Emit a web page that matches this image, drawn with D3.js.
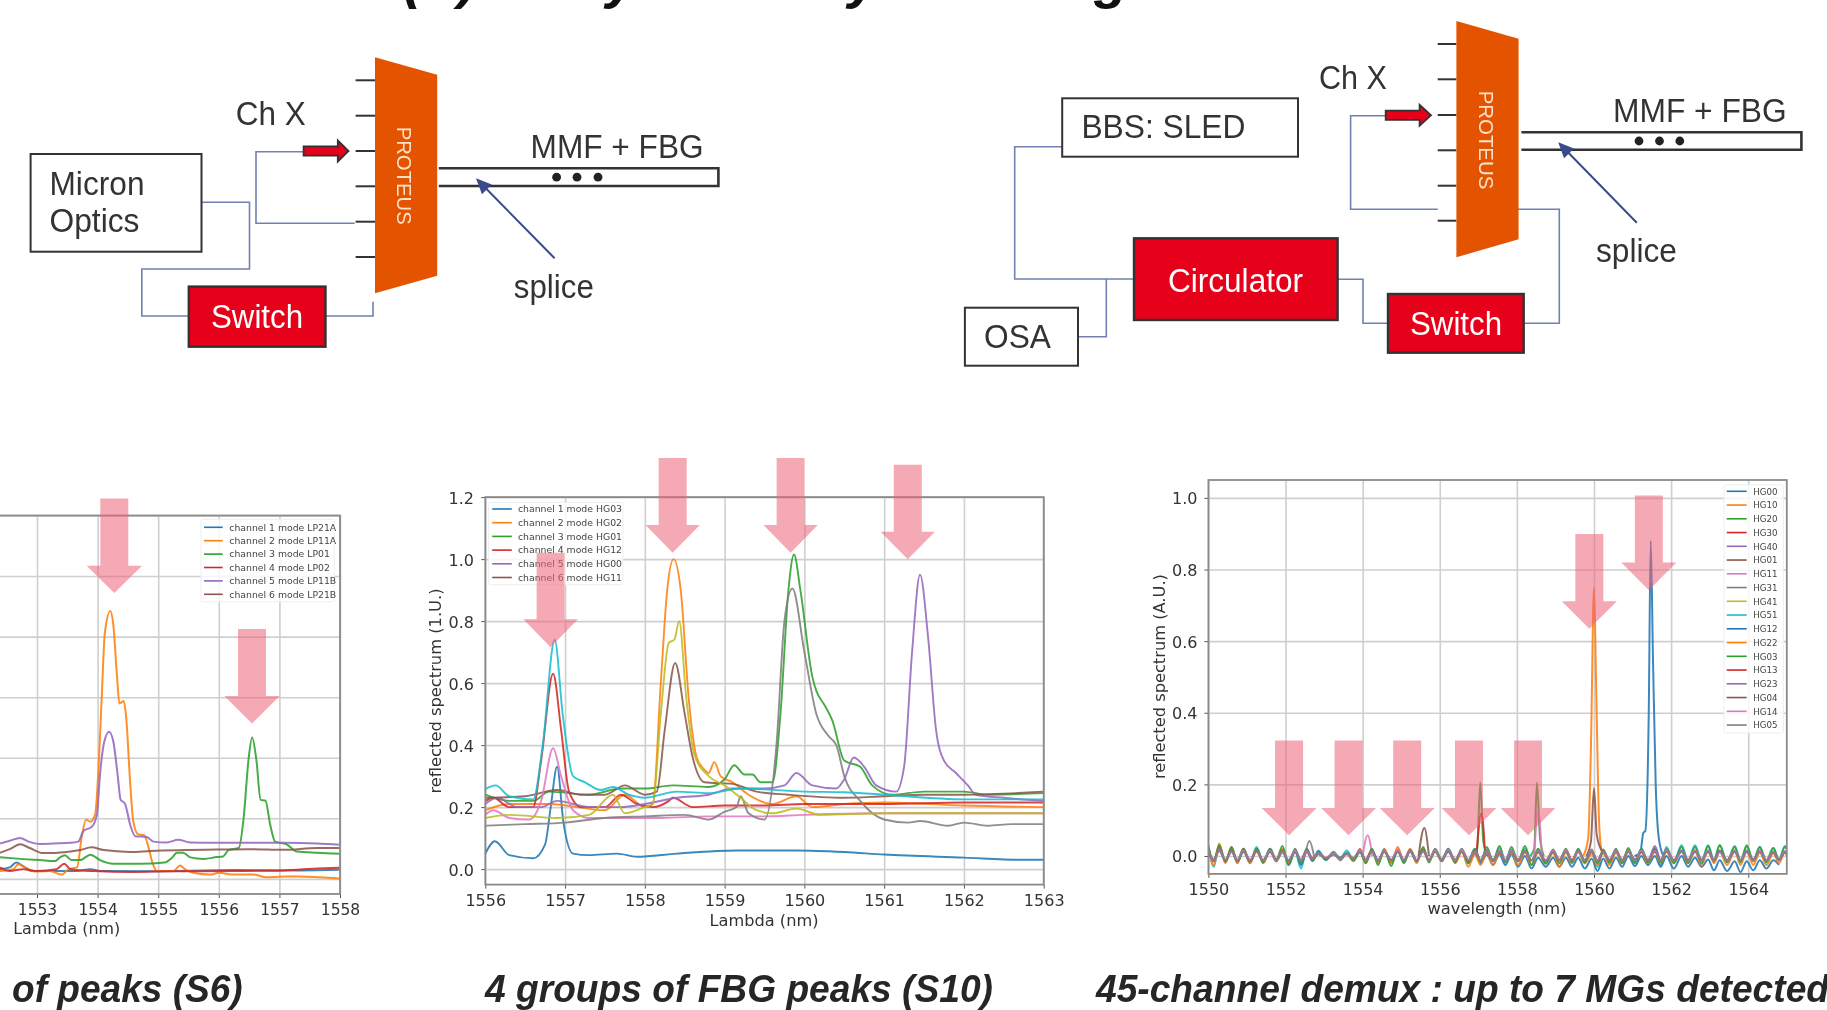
<!DOCTYPE html>
<html><head><meta charset="utf-8">
<script src="https://cdn.jsdelivr.net/npm/d3@7/dist/d3.min.js"></script>
<style>html,body{margin:0;padding:0;background:#fff;overflow:hidden}svg{display:block;filter:blur(.6px)}</style>
</head><body><svg id="c" width="1827" height="1010"></svg>
<script>
// ---------- Chart 1 (S6) ----------
const s6Legend = ["channel 1 mode LP21A","channel 2 mode LP11A","channel 3 mode LP01","channel 4 mode LP02","channel 5 mode LP11B","channel 6 mode LP21B"];
const s6XTicks = [1553,1554,1555,1556,1557,1558];
const s6YTicks = [0,0.2,0.4,0.6,0.8,1.0,1.2];
const lp21aWl = [1552.39,1552.55,1552.66,1552.77,1552.91,1553.21,1553.66,1553.88,1554.04,1554.87,1556.24,1557.34,1558];
const lp21aVal = [.032,.038,.054,.042,.026,.026,.026,.032,.026,.025,.029,.028,.030];
const lp11aWl = [1552.39,1552.61,1552.69,1552.80,1552.99,1553.21,1553.41,1553.52,1553.66,1553.74,1553.81,1553.88,1553.96,1554.01,1554.07,1554.12,1554.21,1554.26,1554.32,1554.36,1554.43,1554.47,1554.54,1554.59,1554.67,1554.77,1554.84,1554.91,1554.99,1555.14,1555.25,1555.36,1555.44,1555.58,1555.86,1556.0,1556.24,1556.57,1556.79,1557.07,1557.34,1557.67,1558];
const lp11aVal = [.026,.032,.048,.038,.024,.026,.014,.032,.038,.141,.195,.189,.213,.345,.609,.813,.885,.837,.669,.579,.587,.537,.309,.189,.147,.144,.104,.050,.026,.026,.026,.044,.032,.020,.014,.020,.014,.014,.005,.008,.008,.005,.001];
const lp01Wl = [1552.39,1552.72,1553.05,1553.30,1553.38,1553.46,1553.57,1553.71,1553.88,1554.04,1554.26,1554.70,1555.11,1555.22,1555.31,1555.41,1555.53,1555.75,1555.97,1556.07,1556.16,1556.33,1556.41,1556.49,1556.55,1556.62,1556.69,1556.77,1556.85,1556.93,1557.12,1557.29,1557.62,1558];
const lp01Val = [.071,.066,.062,.059,.071,.078,.062,.062,.080,.062,.050,.050,.054,.068,.086,.086,.071,.066,.072,.074,.095,.102,.201,.393,.467,.393,.261,.258,.177,.123,.114,.090,.086,.083];
const lp02Wl = [1552.39,1552.55,1552.77,1552.99,1553.32,1553.45,1553.55,1553.93,1554.59,1555.14,1556.24,1557.07,1557.62,1558];
const lp02Val = [.038,.026,.032,.026,.032,.050,.032,.026,.023,.025,.026,.028,.034,.037];
const lp11bWl = [1552.39,1552.55,1552.72,1552.86,1553.05,1553.27,1553.55,1553.68,1553.77,1553.90,1553.99,1554.04,1554.11,1554.19,1554.26,1554.33,1554.38,1554.45,1554.54,1554.62,1554.81,1554.92,1555.14,1555.33,1555.53,1555.97,1556.52,1557.07,1557.62,1558];
const lp11bVal = [.117,.126,.135,.123,.115,.117,.119,.123,.159,.171,.213,.345,.453,.486,.453,.345,.261,.249,.177,.141,.138,.123,.120,.129,.120,.119,.119,.119,.117,.113];
const lp21bWl = [1552.39,1552.55,1552.72,1552.88,1553.10,1553.49,1553.71,1553.90,1554.10,1554.54,1554.87,1556.0,1556.52,1557.07,1557.62,1558];
const lp21bVal = [.086,.098,.114,.102,.085,.089,.095,.104,.095,.089,.092,.097,.098,.096,.102,.102];

// ---------- Chart 2 (S10) ----------
const s10Legend = ["channel 1 mode HG03","channel 2 mode HG02","channel 3 mode HG01","channel 4 mode HG12","channel 5 mode HG00","channel 6 mode HG11"];
const s10XTicks = [1556,1557,1558,1559,1560,1561,1562,1563];
const s10YTicks = [0,0.2,0.4,0.6,0.8,1.0,1.2];
const hg03Wl = [1556,1556.12,1556.3,1556.6,1556.75,1556.82,1556.9,1556.98,1557.1,1557.3,1557.65,1557.9,1558.4,1559.15,1559.9,1560.5,1561,1562,1562.7,1563];
const hg03Val = [.05,.09,.045,.035,.08,.2,.33,.15,.05,.045,.05,.04,.05,.06,.06,.055,.047,.037,.03,.03];
const hg02Wl = [1556,1556.3,1556.8,1557.5,1557.75,1558,1558.1,1558.2,1558.28,1558.36,1558.45,1558.55,1558.65,1558.75,1558.8,1558.87,1558.95,1559.1,1559.3,1559.6,1559.9,1560.1,1560.5,1561,1562,1563];
const hg02Val = [.19,.21,.21,.19,.24,.2,.21,.6,.9,1.0,.9,.55,.36,.32,.31,.345,.3,.28,.24,.21,.235,.2,.21,.215,.205,.2];
const hg01Wl = [1556,1556.3,1556.6,1556.8,1557.3,1557.7,1558,1558.35,1558.8,1559,1559.12,1559.25,1559.35,1559.45,1559.6,1559.7,1559.8,1559.87,1559.95,1560.1,1560.15,1560.25,1560.35,1560.5,1560.7,1560.85,1561.1,1561.5,1562,1562.3,1563];
const hg01Val = [.24,.22,.22,.25,.24,.26,.26,.27,.265,.29,.335,.305,.305,.28,.28,.5,.9,1.015,.9,.62,.575,.53,.48,.35,.33,.27,.24,.25,.25,.24,.245];
const hg12Wl = [1556,1556.1,1556.3,1556.6,1556.7,1556.85,1556.95,1557.05,1557.2,1557.5,1557.7,1557.9,1558.1,1558.3,1558.35,1558.6,1559,1559.5,1560,1561,1562,1563];
const hg12Val = [.22,.23,.2,.2,.35,.63,.45,.25,.2,.2,.24,.21,.2,.22,.23,.2,.205,.205,.21,.21,.215,.215];
const hg00Wl = [1556,1556.15,1556.4,1556.7,1556.9,1557.3,1557.7,1558,1558.4,1558.8,1559.1,1559.5,1559.75,1559.9,1560.1,1560.4,1560.5,1560.62,1560.75,1560.9,1561.15,1561.25,1561.35,1561.45,1561.55,1561.65,1561.75,1561.9,1562.05,1562.15,1562.5,1563];
const hg00Val = [.21,.23,.2,.2,.22,.2,.2,.21,.23,.24,.26,.26,.27,.31,.27,.26,.29,.36,.33,.27,.25,.33,.7,.95,.75,.45,.35,.31,.27,.24,.23,.22];
const hg11Wl = [1556,1556.5,1556.9,1557.2,1557.5,1557.75,1558,1558.15,1558.25,1558.38,1558.5,1558.6,1558.75,1559.1,1559.4,1559.8,1560.5,1561,1561.5,1562,1563];
const hg11Val = [.23,.235,.255,.24,.24,.27,.24,.25,.45,.665,.5,.36,.28,.275,.25,.24,.23,.235,.24,.24,.25];
const s10PinkWl = [1556,1556.1,1556.3,1556.55,1556.7,1556.85,1556.95,1557.1,1557.3,1557.8,1558.2,1558.8,1559.5,1560,1561,1563];
const s10PinkVal = [.175,.19,.165,.16,.22,.39,.3,.19,.165,.165,.165,.17,.17,.175,.18,.18];
const s10GrayWl = [1556,1556.5,1557,1557.5,1558,1558.5,1558.8,1559,1559.15,1559.2,1559.3,1559.5,1559.65,1559.75,1559.85,1560,1560.15,1560.3,1560.4,1560.5,1560.7,1561,1561.3,1561.45,1561.8,1562,1562.3,1562.6,1563];
const s10GrayVal = [.14,.145,.15,.165,.17,.175,.16,.185,.2,.235,.18,.16,.4,.8,.905,.7,.5,.43,.4,.3,.22,.16,.15,.155,.14,.15,.14,.145,.145];
const s10OliveWl = [1556,1556.3,1556.9,1557.3,1557.6,1557.75,1558,1558.1,1558.2,1558.3,1558.37,1558.43,1558.52,1558.62,1558.8,1559,1559.2,1559.4,1559.6,1559.9,1560.2,1561,1562,1563];
const s10OliveVal = [.165,.175,.165,.175,.24,.18,.2,.21,.5,.73,.74,.8,.55,.37,.3,.27,.23,.19,.18,.195,.175,.18,.18,.18];
const s10CyanWl = [1556,1556.13,1556.3,1556.6,1556.72,1556.87,1556.97,1557.1,1557.25,1557.45,1557.6,1557.8,1558,1558.4,1558.8,1559.2,1560,1560.5,1561,1562,1563];
const s10CyanVal = [.258,.27,.235,.225,.4,.74,.5,.3,.28,.255,.265,.24,.23,.25,.245,.26,.25,.248,.24,.225,.225];

// ---------- Chart 3 (45-channel demux) ----------
const demuxLegend = ["HG00","HG10","HG20","HG30","HG40","HG01","HG11","HG31","HG41","HG51","HG12","HG22","HG03","HG13","HG23","HG04","HG14","HG05"];
const demuxXTicks = [1550,1552,1554,1556,1558,1560,1562,1564];
const demuxYTicks = [0,0.2,0.4,0.6,0.8,1.0];
const rippleWl = [1550.00,1550.14,1550.28,1550.44,1550.60,1550.75,1550.91,1551.08,1551.25,1551.42,1551.60,1551.76,1551.92,1552.08,1552.25,1552.40,1552.55,1552.70,1552.85,1553.05,1553.24,1553.42,1553.59,1553.76,1553.93,1554.08,1554.24,1554.40,1554.56,1554.74,1554.91,1555.07,1555.23,1555.40,1555.57,1555.72,1555.88,1556.05,1556.22,1556.40,1556.57,1556.74,1556.91,1557.06,1557.22,1557.38,1557.55,1557.70,1557.86,1558.03,1558.21,1558.38,1558.55,1558.75,1558.94,1559.10,1559.27,1559.43,1559.59,1559.76,1559.94,1560.09,1560.24,1560.40,1560.57,1560.73,1560.89,1561.06,1561.23,1561.40,1561.58,1561.73,1561.88,1562.07,1562.27,1562.44,1562.62,1562.79,1562.96,1563.11,1563.26,1563.45,1563.65,1563.80,1563.96,1564.13,1564.30,1564.47,1564.65,1564.80,1564.95,1565.00];
const rippleHG22 = [.02,-.025,.035,-.02,.025,-.02,.02,-.02,.02,-.02,.015,-.015,.02,-.02,.015,-.015,.01,-.005,.005,-.005,.008,-.01,.006,-.015,.02,-.02,.015,-.02,.02,-.02,.025,-.015,.02,-.02,.02,-.015,.015,-.015,.015,-.02,.012,-.03,.005,-.025,.01,-.025,.01,-.015,.012,-.025,.01,-.025,.01,-.02,.008,-.03,.01,-.02,.012,-.02,.005,-.025,.01,-.025,.01,-.02,.012,-.015,.01,-.02,.012,-.02,.012,-.02,.015,-.02,.012,-.025,.015,-.02,.012,-.025,.012,-.025,.012,-.025,.01,-.025,.008,-.02,.01,0];
const rippleHG03 = [.025,-.015,.03,-.015,.025,-.015,.02,-.015,.02,-.018,.02,-.012,.028,-.025,.02,-.02,.02,-.012,.008,-.01,.006,-.008,.008,-.012,.012,-.02,.02,-.025,.018,-.028,.018,-.02,.015,-.015,.025,-.018,.02,-.015,.02,-.018,.02,-.02,.02,-.015,.025,-.015,.028,-.018,.025,-.015,.028,-.025,.02,-.022,.018,-.02,.02,-.018,.02,-.018,.018,-.02,.018,-.018,.02,-.02,.022,-.02,.02,-.018,.022,-.018,.02,-.02,.025,-.02,.025,-.02,.028,-.015,.03,-.018,.025,-.018,.03,-.015,.025,-.018,.022,-.012,.025,.02];
const rippleHG51 = [.03,-.03,.03,-.018,.02,-.02,.015,-.018,.025,-.015,.018,-.015,.015,-.025,.012,-.035,.018,-.015,.015,-.012,.012,-.005,.015,-.01,.012,-.012,.018,-.012,.015,-.012,.015,-.018,.018,-.015,.018,-.012,.018,-.012,.02,-.015,.018,-.012,.02,-.015,.018,-.012,.022,-.012,.018,-.012,.02,-.012,.018,-.018,.015,-.012,.018,-.015,.018,-.02,.012,-.03,.012,-.02,.015,-.015,.018,-.018,.02,-.018,.02,-.025,.025,-.015,.03,-.012,.03,-.012,.03,-.012,.03,-.015,.028,-.012,.025,-.012,.025,-.012,.022,-.01,.028,.02];
const rippleHG12 = [.02,-.015,.025,-.015,.02,-.015,.02,-.02,.02,-.018,.02,-.015,.018,-.02,.015,-.025,.012,-.012,.012,-.01,.01,-.012,.008,-.012,.012,-.015,.015,-.015,.015,-.018,.012,-.015,.018,-.012,.015,-.012,.018,-.012,.012,-.015,.012,-.02,.008,-.02,.005,-.025,.005,-.025,.005,-.03,0,-.035,-.005,-.03,-.005,-.03,-.005,-.03,-.005,-.035,-.008,-.042,-.008,-.035,-.005,-.03,0,-.028,0,-.025,0,-.03,0,-.035,0,-.03,-.005,-.03,-.01,-.04,-.012,-.042,-.015,-.045,-.015,-.04,-.012,-.035,-.012,-.025];
const rippleHG23 = [.015,-.012,.02,-.012,.015,-.012,.015,-.012,.015,-.012,.015,-.01,.012,-.012,.015,-.012,.018,-.008,.006,-.006,.006,-.006,.008,-.008,.018,-.012,.012,-.012,.015,-.012,.015,-.012,.015,-.012,.015,-.012,.015,-.012,.018,-.012,.018,-.012,.015,-.012,.015,-.012,.015,-.012,.015,-.012,.012,-.012,.012,-.012,.015,-.012,.015,-.012,.015,-.012,.012,-.012,.012,-.012,.015,-.012,.012,-.012,.015,-.012,.028,-.012,.018,-.012,.015,-.012,.015,-.012,.015,-.012,.015,-.012,.015,-.012,.015,-.012,.015,-.012,.012,-.012,.012,.01];
const rippleHG04 = [.012,-.01,.018,-.012,.014,-.012,.012,-.014,.014,-.012,.012,-.01,.014,-.014,.012,-.012,.014,-.01,.006,-.008,.005,-.005,.007,-.006,.012,-.01,.014,-.012,.012,-.012,.014,-.012,.012,-.014,.016,-.012,.014,-.01,.014,-.012,.014,-.014,.014,-.012,.016,-.012,.012,-.014,.012,-.012,.014,-.012,.012,-.014,.012,-.012,.014,-.012,.012,-.012,.014,-.014,.014,-.012,.012,-.012,.014,-.01,.012,-.012,.016,-.012,.014,-.012,.012,-.012,.014,-.01,.012,-.012,.014,-.012,.014,-.012,.012,-.01,.014,-.012,.01,-.01,.012,.005];
const rippleHG14 = [.01,-.012,.016,-.01,.012,-.01,.014,-.01,.012,-.012,.014,-.012,.012,-.012,.014,-.012,.012,-.008,.008,-.006,.007,-.007,.005,-.006,.014,-.012,.012,-.012,.014,-.01,.016,-.012,.014,-.012,.012,-.012,.016,-.012,.016,-.012,.016,-.012,.012,-.012,.014,-.012,.014,-.012,.014,-.01,.012,-.012,.014,-.012,.014,-.01,.016,-.012,.012,-.012,.014,-.012,.012,-.01,.014,-.012,.014,-.012,.014,-.01,.014,-.012,.016,-.012,.012,-.01,.014,-.012,.014,-.012,.012,-.012,.014,-.012,.012,-.012,.014,-.012,.012,-.012,.014,.01];
const rippleHG05 = [.008,-.012,.014,-.012,.012,-.014,.012,-.014,.012,-.012,.012,-.012,.01,-.012,.012,-.012,.016,-.006,.006,-.006,.004,-.006,.006,-.006,.012,-.012,.014,-.014,.012,-.012,.012,-.012,.014,-.012,.014,-.012,.012,-.012,.014,-.01,.012,-.012,.01,-.012,.012,-.012,.012,-.014,.012,-.012,.012,-.012,.012,-.014,.012,-.012,.012,-.012,.014,-.012,.012,-.014,.012,-.012,.012,-.012,.012,-.012,.012,-.012,.012,-.012,.014,-.012,.012,-.012,.012,-.012,.012,-.012,.012,-.012,.012,-.012,.012,-.012,.012,-.014,.012,-.012,.012,.005];
const spikeHG00Wl = [1561.05,1561.2,1561.28,1561.33,1561.42,1561.47,1561.53,1561.6,1561.68,1561.8];
const spikeHG00Val = [0,.01,.065,.07,.4,.88,.55,.2,.05,0];
const spikeHG10Wl = [1559.72,1559.85,1559.92,1560,1560.06,1560.13,1560.2,1560.3];
const spikeHG10Val = [0,.05,.3,.75,.45,.1,.015,0];
const spikeHG01Wl = [1559.8,1559.92,1560,1560.07,1560.2];
const spikeHG01Val = [0,.04,.19,.06,.015];
const spikeHG20aWl = [1556.85,1556.97,1557.05,1557.13,1557.25];
const spikeHG20aVal = [0,.02,.205,.04,0];
const spikeHG20bWl = [1558.35,1558.45,1558.52,1558.6,1558.7];
const spikeHG20bVal = [0,.02,.205,.05,0];
const spikeHG30aWl = [1556.95,1557.08,1557.18];
const spikeHG30aVal = [0,.12,0];
const spikeHG11aWl = [1558.45,1558.55,1558.65];
const spikeHG11aVal = [0,.125,0];
const spikeHG04aWl = [1555.45,1555.6,1555.72];
const spikeHG04aVal = [0,.078,0];
const spikeHG14aWl = [1554.0,1554.13,1554.25];
const spikeHG14aVal = [0,.058,0];
const spikeHG05aWl = [1552.5,1552.62,1552.74];
const spikeHG05aVal = [0,.042,0];

const tab = ["#1f77b4","#ff7f0e","#2ca02c","#d62728","#9467bd","#8c564b","#e377c2","#7f7f7f","#bcbd22","#17becf"];
const svg = d3.select("#c");
const TXT = "#333", SANS = "Liberation Sans, Arial, sans-serif", DJ = "DejaVu Sans, sans-serif";

function text(g,str,x,y,o={}){
  const t=g.append("text").attr("x",x).attr("y",y).text(str)
    .attr("font-family",o.family||SANS).attr("font-size",o.size||34).attr("fill",o.fill||TXT)
    .attr("text-anchor",o.anchor||"start");
  if(o.weight)t.attr("font-weight",o.weight);
  if(o.style)t.attr("font-style",o.style);
  if(o.len)t.attr("textLength",o.len).attr("lengthAdjust","spacingAndGlyphs");
  if(o.rot!==undefined)t.attr("transform",`rotate(${o.rot} ${x} ${y})`);
  return t;
}

function drawChart(c){
  const g=svg.append("g");
  const x=d3.scaleLinear().domain(c.xDomain).range([c.l,c.r]);
  const y=d3.scaleLinear().domain(c.yDomain).range([c.b,c.t]);
  const gx=g.append("g").attr("transform",`translate(0,${c.b})`)
    .call(d3.axisBottom(x).tickValues(c.xTicks).tickFormat(d3.format("d")).tickSize(c.t-c.b).tickPadding(0));
  const gy=g.append("g").attr("transform",`translate(${c.l},0)`)
    .call(d3.axisLeft(y).tickValues(c.yTicks).tickFormat(c.hideYLabels?"":d3.format(".1f")).tickSize(-(c.r-c.l)).tickPadding(0));
  [gx,gy].forEach(a=>{a.select(".domain").remove();
    a.selectAll(".tick line").attr("stroke","#cfcfcf").attr("stroke-width",1.6);
    a.selectAll(".tick text").attr("font-family",DJ).attr("font-size",c.tick).attr("fill",TXT);});
  gx.selectAll(".tick text").attr("y",c.xTickY-c.b).attr("dy",0);
  gy.selectAll(".tick text").attr("x",c.yTickX-c.l).attr("dy","0.37em");
  if(c.hideYLabels)gy.selectAll(".tick text").remove();
  g.append("g").attr("transform",`translate(0,${c.b})`).call(d3.axisBottom(x).tickValues(c.xTicks).tickFormat("").tickSize(4))
    .call(a=>{a.select(".domain").remove();a.selectAll("line").attr("stroke","#555");a.selectAll("text").remove();});
  g.append("g").attr("transform",`translate(${c.l},0)`).call(d3.axisLeft(y).tickValues(c.yTicks).tickFormat("").tickSize(4))
    .call(a=>{a.select(".domain").remove();a.selectAll("line").attr("stroke","#555");a.selectAll("text").remove();});
  const id="clip"+c.id;
  svg.append("clipPath").attr("id",id).append("rect").attr("x",c.l).attr("y",c.t).attr("width",c.r-c.l).attr("height",c.b-c.t);
  const line=d3.line().x(d=>x(d[0])).y(d=>y(d[1])).curve(d3.curveMonotoneX);
  const lg=g.append("g").attr("clip-path",`url(#${id})`).attr("fill","none").attr("stroke-width",c.lw).attr("stroke-linejoin","round").attr("stroke-opacity",.88);
  c.series.forEach(s=>lg.append("path").attr("d",line(d3.zip(s.wl,s.val))).attr("stroke",s.color));
  g.append("rect").attr("x",c.l).attr("y",c.t).attr("width",c.r-c.l).attr("height",c.b-c.t).attr("fill","none").attr("stroke","#8a8a8a").attr("stroke-width",1.8);
  text(g,c.xLabel,c.xLabelX,c.xLabelY,{family:DJ,size:c.tick,anchor:"middle",len:c.xLabelLen});
  if(c.yLabel)text(g,c.yLabel,c.yLabelX,c.yLabelY,{family:DJ,size:c.tick,anchor:"middle",rot:-90,len:c.yLabelLen});
  const L=c.legend;
  g.append("rect").attr("x",L.x0).attr("y",L.y0).attr("width",L.x1-L.x0).attr("height",L.y1-L.y0).attr("rx",2)
    .attr("fill","#fff").attr("fill-opacity",.8).attr("stroke","#eee").attr("stroke-width",1);
  L.labels.forEach((t,i)=>{
    const yy=L.first+i*L.step;
    g.append("line").attr("x1",L.lx0).attr("x2",L.lx1).attr("y1",yy).attr("y2",yy).attr("stroke",tab[i%10]).attr("stroke-width",1.6);
    text(g,t,L.tx,yy+3.2,{family:DJ,size:L.size,fill:"#444"});
  });
  return g;
}

function arrow(g,tip,tipY,headY,topY,shaftHalf,headHalf){
  const p=d3.path();
  p.moveTo(tip-shaftHalf,topY);p.lineTo(tip+shaftHalf,topY);p.lineTo(tip+shaftHalf,headY);p.lineTo(tip+headHalf,headY);
  p.lineTo(tip,tipY);p.lineTo(tip-headHalf,headY);p.lineTo(tip-shaftHalf,headY);p.closePath();
  g.append("path").attr("d",p.toString()).attr("fill","rgb(237,99,120)").attr("fill-opacity",.55);
}

// ----- Chart 1 -----
const g1=drawChart({id:1,l:-205.4,r:340,t:515.5,b:894,xDomain:[1549,1558],yDomain:[-.05,1.2],xTicks:s6XTicks,yTicks:s6YTicks,hideYLabels:true,tick:15.5,lw:2,
  xTickY:914.5,yTickX:-215,xLabel:"Lambda (nm)",xLabelX:66.7,xLabelY:934,xLabelLen:107,
  series:[{wl:lp21aWl,val:lp21aVal,color:tab[0]},{wl:lp11aWl,val:lp11aVal,color:tab[1]},{wl:lp01Wl,val:lp01Val,color:tab[2]},{wl:lp02Wl,val:lp02Val,color:tab[3]},{wl:lp11bWl,val:lp11bVal,color:tab[4]},{wl:lp21bWl,val:lp21bVal,color:tab[5]}],
  legend:{labels:s6Legend,x0:201,x1:334.3,y0:519.3,y1:601.8,first:527.3,step:13.4,lx0:204,lx1:222.7,tx:229.3,size:9.3}});
arrow(g1,114.3,593,565.8,498.5,14,27.7);
arrow(g1,252,723.6,696,629,14,27.7);

// ----- Chart 2 -----
const g2=drawChart({id:2,l:485.3,r:1043.7,t:497.1,b:884.6,xDomain:[1556,1563],yDomain:[-.05,1.2],xTicks:s10XTicks,yTicks:s10YTicks,tick:16,lw:1.9,
  xTickY:906.5,yTickX:474,xLabel:"Lambda (nm)",xLabelX:764,xLabelY:926,xLabelLen:109,yLabel:"reflected spectrum (1.U.)",yLabelX:441,yLabelY:691,yLabelLen:205,
  series:[{wl:hg03Wl,val:hg03Val,color:tab[0]},{wl:hg02Wl,val:hg02Val,color:tab[1]},{wl:hg01Wl,val:hg01Val,color:tab[2]},{wl:hg12Wl,val:hg12Val,color:tab[3]},{wl:hg00Wl,val:hg00Val,color:tab[4]},{wl:hg11Wl,val:hg11Val,color:tab[5]},{wl:s10PinkWl,val:s10PinkVal,color:tab[6]},{wl:s10GrayWl,val:s10GrayVal,color:tab[7]},{wl:s10OliveWl,val:s10OliveVal,color:tab[8]},{wl:s10CyanWl,val:s10CyanVal,color:tab[9]}],
  legend:{labels:s10Legend,x0:488.6,x1:622.9,y0:502.5,y1:584.7,first:509,step:13.7,lx0:492.2,lx1:511.8,tx:518,size:9.3}});
const toX2=z=>z/2.45+420, toY2=z=>z/2.75+440;
arrow(g2,toX2(320),toY2(570),toY2(493),toY2(310),14,27.2);
arrow(g2,toX2(619),toY2(310),toY2(234),458,14,27.2);
arrow(g2,toX2(908),toY2(310),toY2(234),458,14,27.2);
arrow(g2,toX2(1195),toY2(328),toY2(252),toY2(68),14,27.2);

// ----- Chart 3 -----
const ripples=[[rippleHG51,tab[9]],[rippleHG12,tab[0]],[rippleHG22,tab[1]],[rippleHG03,tab[2]],[rippleHG23,tab[4]],[rippleHG04,tab[5]],[rippleHG14,tab[6]],[rippleHG05,tab[7]]];
const spikes=[[spikeHG00Wl,spikeHG00Val,tab[0]],[spikeHG10Wl,spikeHG10Val,tab[1]],[spikeHG20aWl,spikeHG20aVal,tab[2]],[spikeHG20bWl,spikeHG20bVal,tab[2]],[spikeHG30aWl,spikeHG30aVal,tab[3]],[spikeHG01Wl,spikeHG01Val,tab[5]],[spikeHG04aWl,spikeHG04aVal,tab[5]],[spikeHG11aWl,spikeHG11aVal,tab[6]],[spikeHG14aWl,spikeHG14aVal,tab[6]],[spikeHG05aWl,spikeHG05aVal,tab[7]]];
const g3=drawChart({id:3,l:1208.4,r:1786.8,t:480,b:873.9,xDomain:[1550,1565],yDomain:[-.05,1.05],xTicks:demuxXTicks,yTicks:demuxYTicks,tick:16,lw:2,
  xTickY:895,yTickX:1197.5,xLabel:"wavelength (nm)",xLabelX:1497,xLabelY:914,xLabelLen:139,yLabel:"reflected spectrum (A.U.)",yLabelX:1165,yLabelY:676.6,yLabelLen:205,
  series:[...spikes.map(s=>({wl:s[0],val:s[1],color:s[2]})),...ripples.map(r=>({wl:rippleWl,val:r[0],color:r[1]}))],
  legend:{labels:demuxLegend,x0:1724,x1:1783.3,y0:485,y1:733,first:491.3,step:13.75,lx0:1726.7,lx1:1746.7,tx:1753.3,size:8.7}});
const toX3=z=>z/2.218+1120, toY3=z=>z/2.851+460;
[375,507,637,774,905].forEach(z=>arrow(g3,toX3(z),toY3(1070),toY3(992),toY3(800),14,27.5));
arrow(g3,toX3(1041),toY3(481),toY3(403),toY3(211),14,27.5);
arrow(g3,toX3(1173),toY3(371),toY3(292),toY3(101),14,27.5);

// ----- captions -----
const capOpt={size:38,weight:"bold",style:"italic",fill:"#262626"};
text(svg,"of peaks (S6)",12,1002,{...capOpt,len:230.7});
text(svg,"4 groups of FBG peaks (S10)",485,1002,{...capOpt,len:508});
text(svg,"45-channel demux : up to 7 MGs detected",1096,1002,{...capOpt,len:733});

// ----- clipped heading: only the tails of these glyphs are inside the frame -----
const head=svg.append("text").attr("y",-3).attr("font-family",SANS).attr("font-size",56).attr("font-weight","bold").attr("font-style","italic").attr("fill","#111");
[["(",403],[")",458],["y",606],["y",848],["g",1094]].forEach(d=>head.append("tspan").attr("x",d[1]).text(d[0]));

// ----- setup diagrams -----
const link=d3.line();
function box(g,x0,y0,x1,y1,red){
  g.append("rect").attr("x",x0).attr("y",y0).attr("width",x1-x0).attr("height",y1-y0).attr("fill",red?"#e60019":"#fff").attr("stroke","#333").attr("stroke-width",red?2.4:2);
}
function conn(g,pts){g.append("path").attr("d",link(pts)).attr("fill","none").attr("stroke","#7280b3").attr("stroke-width",1.6);}
function diagram(d){
  const g=svg.append("g");
  d.links.forEach(p=>conn(g,p));
  d.boxes.forEach(b=>box(g,b[0],b[1],b[2],b[3],b[4]));
  d.labels.forEach(l=>text(g,l[0],l[1],l[2],{len:l[3],size:l[4]||34,fill:l[5]||TXT,anchor:"start"}));
  d.ticks.forEach(y=>g.append("line").attr("x1",d.tickX).attr("x2",d.trap[0][0]).attr("y1",y).attr("y2",y).attr("stroke","#333").attr("stroke-width",2));
  g.append("path").attr("d",link(d.trap)+"Z").attr("fill","#e45400");
  text(g,"PROTEUS",d.proteus[0],d.proteus[1],{size:20,fill:"#fde0c8",rot:90,len:d.proteus[2]});
  const f=d.fiber;
  g.append("path").attr("d",`M${f[0]},${f[1]}H${f[2]}V${f[3]}H${f[0]}`).attr("fill","#fff").attr("stroke","#333").attr("stroke-width",2.6);
  d.dots.forEach(x=>g.append("circle").attr("cx",x).attr("cy",(f[1]+f[3])/2).attr("r",4.4).attr("fill","#222"));
  const r=d.red;
  g.append("path").attr("d",link([[r[0],r[2]-4.6],[r[1],r[2]-4.6],[r[1],r[2]-10.5],[r[3],r[2]],[r[1],r[2]+10.5],[r[1],r[2]+4.6],[r[0],r[2]+4.6]])+"Z").attr("fill","#e60019").attr("stroke","#333").attr("stroke-width",1.8);
  const s=d.splice, a=Math.atan2(s[3]-s[1],s[2]-s[0]), h=17, w=.42;
  g.append("line").attr("x1",s[0]).attr("y1",s[1]).attr("x2",s[2]-Math.cos(a)*8).attr("y2",s[3]-Math.sin(a)*8).attr("stroke","#3b4a8c").attr("stroke-width",2);
  g.append("path").attr("d",link([[s[2],s[3]],[s[2]-h*Math.cos(a-w),s[3]-h*Math.sin(a-w)],[s[2]-h*Math.cos(a+w),s[3]-h*Math.sin(a+w)]])+"Z").attr("fill","#3b4a8c");
}
diagram({
  links:[[[201.5,202.3],[249.5,202.3],[249.5,269],[141.8,269],[141.8,316],[188.8,316]],[[303.6,151.7],[256,151.7],[256,223.3],[354.6,223.3]],[[325.5,316],[373,316],[373,301.7]]],
  boxes:[[30.6,154,201.5,251.7],[188.8,286.6,325.5,346.7,true]],
  labels:[["Micron",49.5,195,95],["Optics",49.5,232,90],["Switch",211,328,92,34,"#fff"],["Ch X",235.7,125,70],["MMF + FBG",530.6,157.7,173],["splice",513.8,297.7,80]],
  tickX:355.6,ticks:[80.3,115.7,151,186.3,221.7,257],
  trap:[[375,57.3],[437.2,74.7],[437.2,275.7],[375,293.3]],proteus:[396.5,126.7,98],
  fiber:[438.8,168.3,718.4,186],dots:[556.6,577,598],red:[303.6,337.8,151,348.5],splice:[554.6,258.3,476,178.3]
});
diagram({
  links:[[[1062.2,146.7],[1014.7,146.7],[1014.7,279],[1134,279]],[[1078,336.7],[1106.3,336.7],[1106.3,279]],[[1337.6,279.3],[1363,279.3],[1363,323.3],[1388,323.3]],[[1523.7,323.3],[1559.3,323.3],[1559.3,209.3],[1518,209.3]],[[1385.7,115.7],[1350.6,115.7],[1350.6,209.3],[1437.7,209.3]]],
  boxes:[[1062.2,98.3,1298,156.7],[1134,238.3,1337.6,320,true],[1388,294,1523.7,352.7,true],[964.9,307.7,1078,365.7]],
  labels:[["BBS: SLED",1081.4,138.3,164],["Circulator",1168,291.7,135,34,"#fff"],["Switch",1410,335,92,34,"#fff"],["OSA",984,347.7,67],["Ch X",1319,89,68],["MMF + FBG",1613,121.7,173.7],["splice",1596,262.3,81]],
  tickX:1437.7,ticks:[44,79.3,115,150.3,185.7,220.7],
  trap:[[1456.4,21],[1518.6,38.7],[1518.6,239.3],[1456.4,257.3]],proteus:[1478.5,90.7,98.6],
  fiber:[1521.4,132.3,1801.4,149.7],dots:[1639,1659.5,1679.8],red:[1385.7,1419.6,115.3,1431],splice:[1636.8,222.7,1558.2,142.3]
});
</script></body></html>
